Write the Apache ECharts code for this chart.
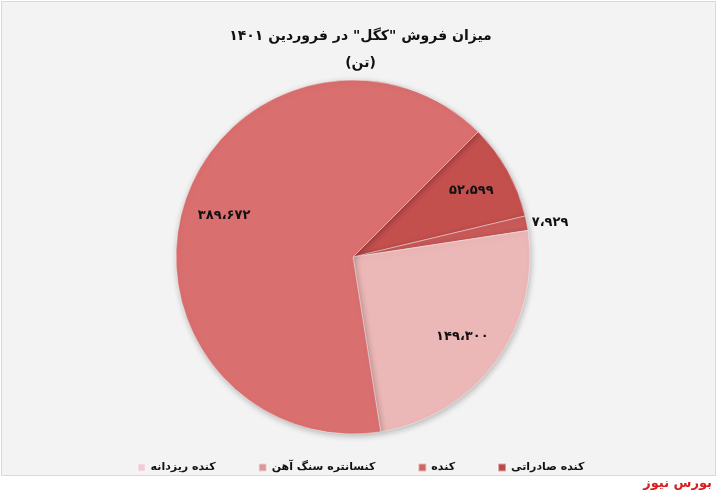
<!DOCTYPE html>
<html>
<head>
<meta charset="utf-8">
<script src="https://cdn.jsdelivr.net/npm/echarts@6/dist/echarts.min.js"></script>
<style>
html,body{margin:0;padding:0;background:#ffffff;}
#c{width:721px;height:496px;}
</style>
</head>
<body>
<div id="c"></div>
<script>
const titleText = 'میزان فروش "کگل" در فروردین ۱۴۰۱';
const subTitleText = '(تن)';
const categories = ['کنده صادراتی', 'کنده', 'کنسانتره سنگ آهن', 'کنده ریزدانه'];
const values = [52599, 7929, 149300, 389672];
const sliceColors = ['#c4504e', '#c95b59', '#ecb8b7', '#d96f6e'];
const legendColors = ['#b84a48', '#cc6664', '#d99a98', '#efcbd3'];
const sourceText = 'بورس نیوز';

const FONT = 'DejaVu Sans';
function toFa(n) {
  const s = n.toLocaleString('en-US').replace(/,/g, '،');
  return s.replace(/[0-9]/g, d => '۰۱۲۳۴۵۶۷۸۹'[+d]);
}

const total = values.reduce((a, b) => a + b, 0);
const pieData = categories.map((name, i) => ({
  name, value: values[i], itemStyle: { color: sliceColors[i] }
}));
const labelData = categories.map((name, i) => {
  const d = { name, value: values[i] };
  if (values[i] / total < 0.03) {
    d.label = { position: 'outside' };
  }
  return d;
});
const legendData = categories.map((name, i) => ({ name, itemStyle: { color: legendColors[i] } })).reverse();

const chart = echarts.init(document.getElementById('c'));
chart.setOption({
  backgroundColor: '#ffffff',
  animation: false,
  title: {
    text: titleText,
    subtext: subTitleText,
    left: 'center',
    top: 24,
    itemGap: 13,
    textStyle: { fontFamily: FONT, fontWeight: 'bold', fontSize: 14, color: '#111' },
    subtextStyle: { fontFamily: FONT, fontWeight: 'bold', fontSize: 14, color: '#111' }
  },
  legend: {
    data: legendData,
    left: 'center',
    top: 457,
    itemWidth: 8,
    itemHeight: 8,
    itemGap: 42,
    icon: 'rect',
    textStyle: { fontFamily: FONT, fontWeight: 'bold', fontSize: 11, color: '#111' }
  },
  graphic: [
    { type: 'rect', z: -10, shape: { x: 1.5, y: 1.5, width: 714, height: 474 },
      style: { fill: '#f3f3f3', stroke: '#d9d9d9', lineWidth: 1 } },
    { type: 'text', right: 9, top: 477,
      style: { text: sourceText, fill: '#d81e1e', font: 'bold 13px "DejaVu Sans"' } }
  ],
  series: [
    {
      type: 'pie',
      center: [353, 257],
      radius: [0, 177],
      startAngle: 45,
      clockwise: true,
      avoidLabelOverlap: false,
      label: { show: false },
      labelLine: { show: false },
      itemStyle: { borderColor: 'rgba(255,255,255,0.5)', borderWidth: 0.8,
        shadowBlur: 6, shadowColor: 'rgba(0,0,0,0.25)', shadowOffsetX: 1, shadowOffsetY: 2 },
      emphasis: { disabled: true },
      data: pieData
    },
    {
      type: 'pie',
      center: [353, 257],
      radius: [88, 177],
      startAngle: 45,
      clockwise: true,
      silent: true,
      avoidLabelOverlap: false,
      itemStyle: { color: 'rgba(0,0,0,0)' },
      label: {
        show: true,
        position: 'inside',
        formatter: p => toFa(p.value),
        fontFamily: FONT, fontWeight: 'bold', fontSize: 13, color: '#111'
      },
      labelLine: { show: false, length: 0, length2: 0 },
      emphasis: { disabled: true },
      data: labelData
    }
  ]
});
</script>
</body>
</html>
